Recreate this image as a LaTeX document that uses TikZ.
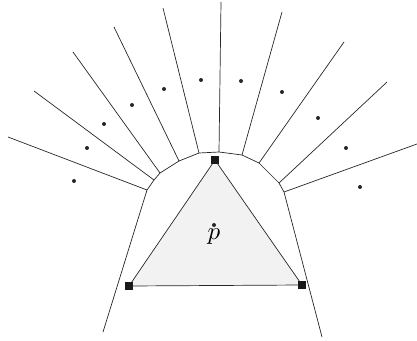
\documentclass[tikz,border=0pt]{standalone}
\usetikzlibrary{positioning}

\begin{document}
\begin{tikzpicture}[
  x=1pt, y=-1pt,
  edge/.style={draw=black!85, line width=0.7pt},
  site/.style={circle, fill=black!85, inner sep=0pt, minimum size=4pt},
  corner/.style={rectangle, fill=black!90, inner sep=0pt, minimum size=8pt},
]
\useasboundingbox (0,0) rectangle (417,340);

% ---- cell boundary of p -------------------------------------------------
\coordinate (b1) at (103,332);
\coordinate (b2) at (322,337);
\foreach \n/\x/\y in {1/147/190, 2/154/180, 3/160/173, 4/179/161,
                      5/199/153, 6/219/152, 7/242/155, 8/259/163,
                      9/279/183, 10/284/192}
  \coordinate (v\n) at (\x,\y);

% ---- outer ends of the unbounded edges ---------------------------------
\foreach \n/\x/\y in {1/8/137, 2/34/91, 3/73/52, 4/114/27, 5/163/8,
                      6/221/2, 7/282/12, 8/344/42, 9/387/82, 10/417/144}
  \coordinate (o\n) at (\x,\y);

% ---- triangle ----------------------------------------------------------
\coordinate (ta) at (215,160);
\coordinate (tb) at (129,286);
\coordinate (tc) at (302,285);
\filldraw[edge, fill=black!5] (ta) -- (tb) -- (tc) -- cycle;

\draw[edge] (b1) -- (v1) -- (v2) -- (v3) -- (v4) -- (v5) -- (v6)
  -- (v7) -- (v8) -- (v9) -- (v10) -- (b2);
\foreach \n in {1,...,10}
  \draw[edge] (o\n) -- (v\n);

\node[corner] (qa) at (ta) {};
\node[corner] (qb) at (tb) {};
\node[corner] (qc) at (tc) {};

% ---- sites -------------------------------------------------------------
\foreach \n/\x/\y in {1/74/181, 2/87/148, 3/104/124, 4/132/105,
                      5/164/89, 6/201/80, 7/241/81, 8/282/92,
                      9/318/118, 10/346/148, 11/360/187}
  \node[site] (s\n) at (\x,\y) {};

\node[site] (p) at (214,225) {};
\node[inner sep=0pt, below=1.5pt of p] (plabel) {\scalebox{2.5}{$p$}};

\end{tikzpicture}
\end{document}
